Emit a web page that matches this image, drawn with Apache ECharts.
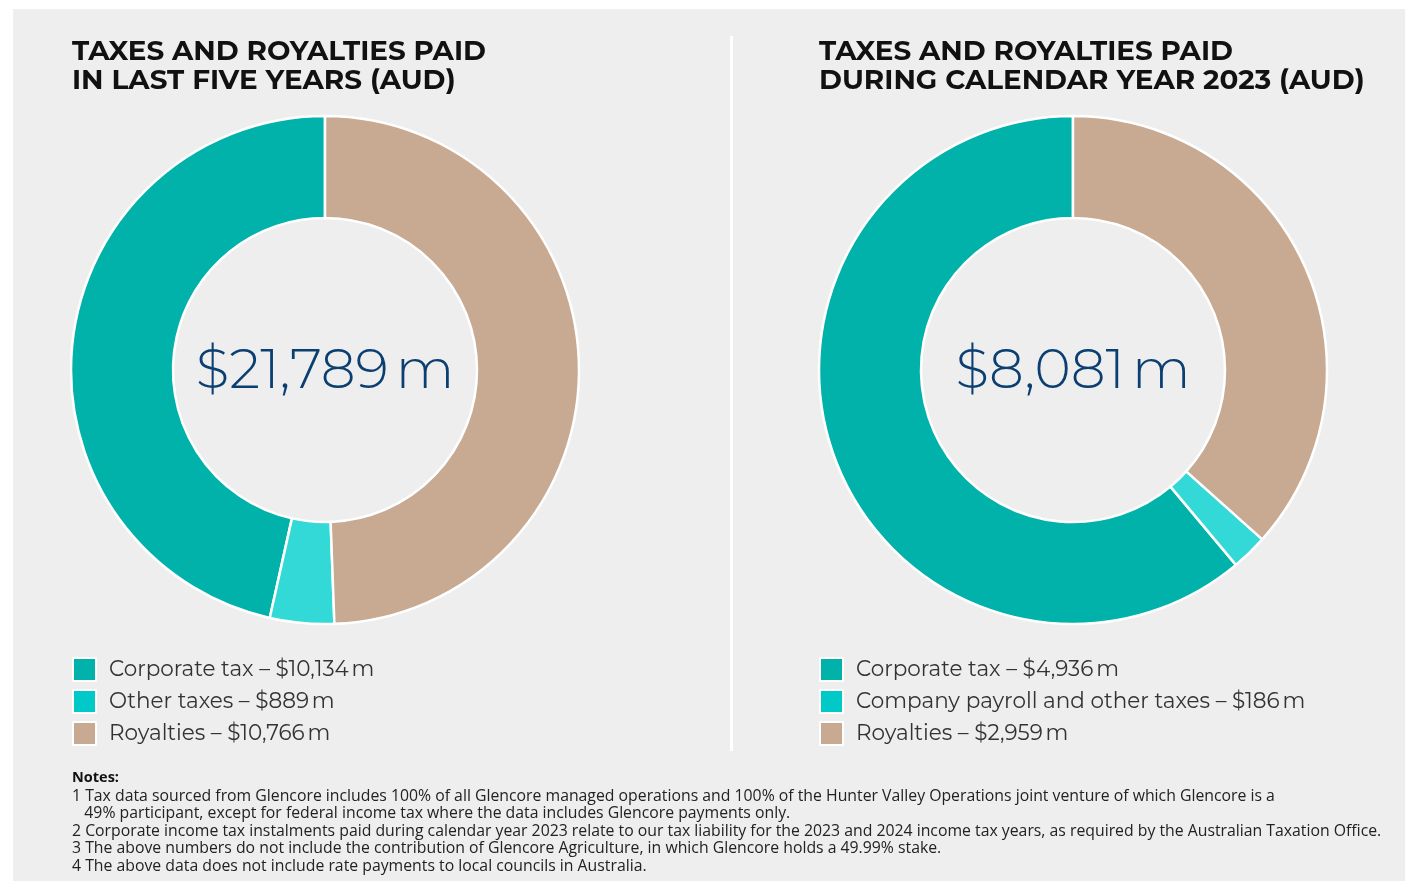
<!DOCTYPE html>
<html>
<head>
<meta charset="utf-8">
<script src="https://cdn.jsdelivr.net/npm/echarts@6/dist/echarts.min.js"></script>
<style>
  html, body { margin: 0; padding: 0; background: #fff; }
  #chart { width: 1405px; height: 881px; }
</style>
</head>
<body>
<div id="chart"></div>
<script>
// data (AUD millions)
var leftNames = ['Corporate tax', 'Other taxes', 'Royalties'];
var leftValues = [10134, 889, 10766];
var rightNames = ['Corporate tax', 'Company payroll and other taxes', 'Royalties'];
var rightValues = [4936, 186, 2959];
var leftTitle = 'TAXES AND ROYALTIES PAID\nIN LAST FIVE YEARS (AUD)';
var rightTitle = 'TAXES AND ROYALTIES PAID\nDURING CALENDAR YEAR 2023 (AUD)';
var notes = [
    '1 Tax data sourced from Glencore includes 100% of all Glencore managed operations and 100% of the Hunter Valley Operations joint venture of which Glencore is a',
    '   49% participant, except for federal income tax where the data includes Glencore payments only.',
    '2 Corporate income tax instalments paid during calendar year 2023 relate to our tax liability for the 2023 and 2024 income tax years, as required by the Australian Taxation Office.',
    '3 The above numbers do not include the contribution of Glencore Agriculture, in which Glencore holds a 49.99% stake.',
    '4 The above data does not include rate payments to local councils in Australia.'
];

var sliceColors = ['#00B2AA', '#33D9D6', '#C8A991'];
var legendColors = ['#00B2AA', '#00C9C7', '#C8A991'];

function fmt(v) { return '$' + v.toLocaleString('en-US') + '\u2009m'; }
function sum(a) { var s = 0; for (var i = 0; i < a.length; i++) s += a[i]; return s; }

function makeData(names, values) {
    var res = [];
    for (var i = 0; i < names.length; i++) {
        res.push({ name: names[i] + ' \u2013 ' + fmt(values[i]), value: values[i],
                   itemStyle: { color: sliceColors[i] } });
    }
    return res;
}
function makeLegend(names, values) {
    var res = [];
    for (var i = 0; i < names.length; i++) {
        res.push({ name: names[i] + ' \u2013 ' + fmt(values[i]), itemStyle: { color: legendColors[i] } });
    }
    return res;
}

var leftData = makeData(leftNames, leftValues);
var rightData = makeData(rightNames, rightValues);

var titleFontFamily = 'Montserrat, "Open Sans", sans-serif';
var bigFont = 'Montserrat, Lato, "Open Sans", sans-serif';

function legendCfg(left, names, values) {
    return {
        orient: 'vertical', left: left, top: 657, padding: 0,
        itemWidth: 23, itemHeight: 23, itemGap: 7,
        icon: 'rect', selectedMode: false,
        textStyle: { fontSize: 21.5, color: '#333', fontFamily: 'Montserrat, "Open Sans", sans-serif', padding: [0, 0, 0, 8] },
        data: makeLegend(names, values)
    };
}

function pieCfg(cx, data) {
    return {
        type: 'pie', center: [cx, 370], radius: [152, 254],
        startAngle: 90, clockwise: false, silent: true,
        label: { show: false }, labelLine: { show: false },
        itemStyle: { borderColor: '#fff', borderWidth: 2.5 },
        data: data
    };
}

var noteTexts = [{
    type: 'text', left: 72, top: 770,
    style: { text: 'Notes:', font: 'bold 14.5px "Open Sans", sans-serif', fill: '#111' }
}];
for (var i = 0; i < notes.length; i++) {
    noteTexts.push({
        type: 'text', left: 72, top: 788 + i * 17.6,
        style: { text: notes[i], font: '15.8px "Open Sans", sans-serif', fill: '#222' }
    });
}

var myChart = echarts.init(document.getElementById('chart'));
myChart.setOption({
    backgroundColor: '#fff',
    animation: false,
    legend: [legendCfg(72, leftNames, leftValues), legendCfg(819, rightNames, rightValues)],
    series: [pieCfg(325, leftData), pieCfg(1073, rightData)],
    graphic: [
        { type: 'rect', z: -10, shape: { x: 13, y: 9, width: 1392, height: 872 }, style: { fill: '#EEEEEE' } },
        { type: 'rect', shape: { x: 730, y: 36, width: 3, height: 715 }, style: { fill: '#fff' } },
        { type: 'text', left: 72, top: 37, style: { text: leftTitle, font: 'bold 27.8px ' + titleFontFamily, lineHeight: 29.5, fill: '#111' } },
        { type: 'text', left: 819, top: 37, style: { text: rightTitle, font: 'bold 27.8px ' + titleFontFamily, lineHeight: 29.5, fill: '#111' } },
        { type: 'text', x: 325, y: 372, style: { text: fmt(sum(leftValues)), font: '300 55px ' + bigFont, fill: '#0B3F72', textAlign: 'center', textVerticalAlign: 'middle' } },
        { type: 'text', x: 1073, y: 372, style: { text: fmt(sum(rightValues)), font: '300 55px ' + bigFont, fill: '#0B3F72', textAlign: 'center', textVerticalAlign: 'middle' } }
    ].concat(noteTexts)
});
</script>
</body>
</html>
